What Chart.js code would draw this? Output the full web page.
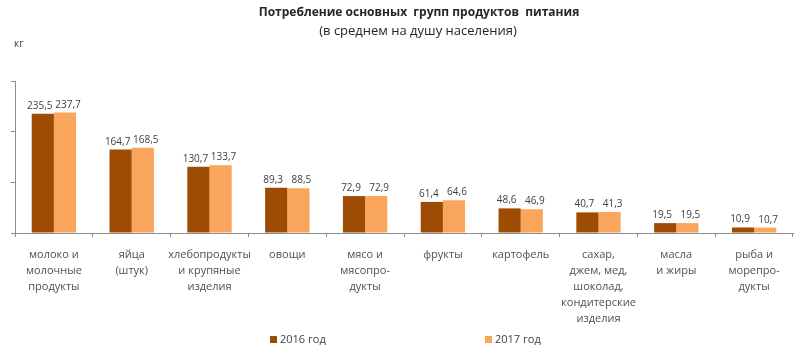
<!DOCTYPE html>
<html>
<head>
<meta charset="utf-8">
<script src="https://cdn.jsdelivr.net/npm/chart.js@4/dist/chart.umd.min.js"></script>
<style>
  html, body { margin: 0; padding: 0; background: #fff; }
  #wrap { width: 800px; height: 358px; position: relative; }
</style>
</head>
<body>
<div id="wrap"><canvas id="c" width="800" height="358"></canvas></div>
<script>
const categories = [
  ["молоко и", "молочные", "продукты"],
  ["яйца", "(штук)"],
  ["хлебопродукты", "и крупяные", "изделия"],
  ["овощи"],
  ["мясо и", "мясопро-", "дукты"],
  ["фрукты"],
  ["картофель"],
  ["сахар,", "джем, мед,", "шоколад,", "кондитерские", "изделия"],
  ["масла", "и жиры"],
  ["рыба и", "морепро-", "дукты"]
];
const values2016 = [235.5, 164.7, 130.7, 89.3, 72.9, 61.4, 48.6, 40.7, 19.5, 10.9];
const values2017 = [237.7, 168.5, 133.7, 88.5, 72.9, 64.6, 46.9, 41.3, 19.5, 10.7];
const seriesNames = ["2016 год", "2017 год"];
const yTicks = [0, 100, 200, 300];
const titleText = "Потребление основных  групп продуктов  питания";
const subtitleText = "(в среднем на душу населения)";
const unitText = "кг";

const FONT = "'Open Sans', 'Noto Sans', sans-serif";

const decorPlugin = {
  id: 'decor',
  afterDatasetsDraw(chart) {
    const ctx = chart.ctx;
    ctx.save();
    // data labels
    ctx.font = "10px " + FONT;
    ctx.fillStyle = "#404040";
    ctx.textAlign = "center";
    ctx.textBaseline = "alphabetic";
    const shift = [-3, 3];
    chart.data.datasets.forEach((ds, di) => {
      const meta = chart.getDatasetMeta(di);
      meta.data.forEach((bar, i) => {
        const txt = ds.data[i].toFixed(1).replace('.', ',');
        ctx.fillText(txt, bar.x + shift[di], bar.y - 5);
      });
    });
    ctx.restore();
  },
  afterDraw(chart) {
    const ctx = chart.ctx;
    ctx.save();
    ctx.fillStyle = "#262626";
    ctx.textAlign = "center";
    ctx.textBaseline = "middle";
    ctx.font = "bold 12px " + FONT;
    ctx.fillText(titleText, 419, 13);
    ctx.font = "13px " + FONT;
    ctx.fillText(subtitleText, 418, 31);
    ctx.textAlign = "left";
    ctx.font = "10px " + FONT;
    ctx.fillStyle = "#404040";
    ctx.fillText(unitText, 14, 44);
    // legend
    const legendX = [270, 485];
    ctx.font = "11px " + FONT;
    chart.data.datasets.forEach((ds, di) => {
      const x = legendX[di];
      ctx.fillStyle = ds.backgroundColor;
      ctx.fillRect(x, 336, 7, 7);
      ctx.fillStyle = "#404040";
      ctx.fillText(ds.label, x + 10, 340);
    });
    ctx.restore();
  }
};

new Chart(document.getElementById('c'), {
  type: 'bar',
  data: {
    labels: categories,
    datasets: [
      { label: seriesNames[0], data: values2016, backgroundColor: "#9E4C04", barPercentage: 1, categoryPercentage: 0.57 },
      { label: seriesNames[1], data: values2017, backgroundColor: "#F9A55B", barPercentage: 1, categoryPercentage: 0.57 }
    ]
  },
  options: {
    responsive: false,
    animation: false,
    layout: { padding: { top: 81, left: 11, right: 7, bottom: 0 } },
    plugins: {
      legend: { display: false },
      title: { display: false },
      tooltip: { enabled: false }
    },
    scales: {
      x: {
        afterFit(scale) { scale.height = 125; },
        grid: { drawOnChartArea: false, tickLength: 4, color: "#8c8c8c", offset: true },
        border: { color: "#8c8c8c" },
        ticks: {
          color: "#505050",
          font: { family: FONT, size: 11, lineHeight: 1.45 },
          padding: 10,
          maxRotation: 0,
          autoSkip: false
        }
      },
      y: {
        min: yTicks[0],
        max: yTicks[yTicks.length - 1],
        afterBuildTicks(scale) { scale.ticks = yTicks.map(v => ({ value: v })); },
        grid: { drawOnChartArea: false, tickLength: 4, color: "#8c8c8c" },
        border: { color: "#8c8c8c" },
        ticks: { display: false }
      }
    }
  },
  plugins: [decorPlugin]
});
</script>
</body>
</html>
